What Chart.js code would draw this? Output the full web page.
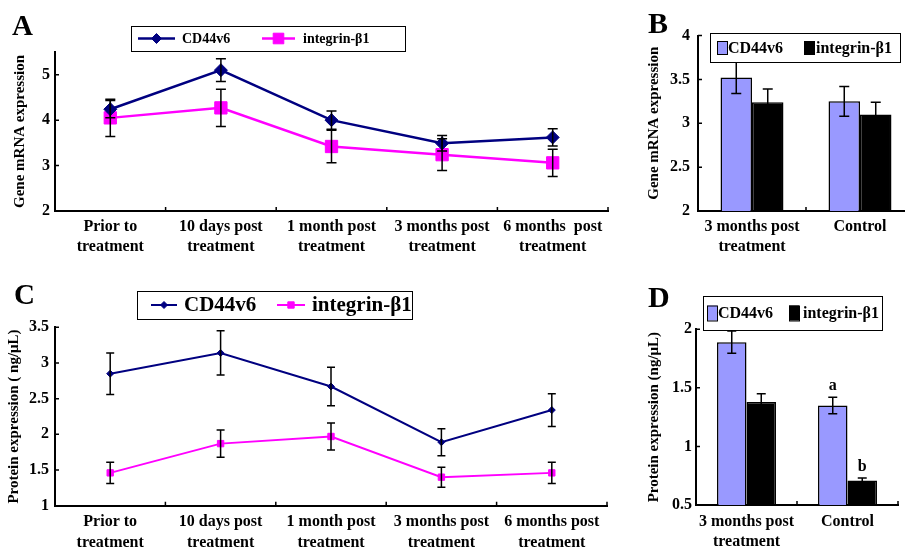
<!DOCTYPE html>
<html>
<head>
<meta charset="utf-8">
<script src="https://cdn.jsdelivr.net/npm/chart.js@4"></script>
<style>
  html, body { margin: 0; padding: 0; background: #fff; }
  body { width: 905px; height: 549px; overflow: hidden; position: relative; }
  canvas { position: absolute; }
</style>
</head>
<body>
<canvas id="chartA" width="625" height="270" style="left:0;top:0"></canvas>
<canvas id="chartB" width="280" height="270" style="left:640px;top:0"></canvas>
<canvas id="chartC" width="625" height="279" style="left:0;top:270px"></canvas>
<canvas id="chartD" width="265" height="279" style="left:640px;top:270px"></canvas>
<script>
// ---- data ----
const seriesNames = ['CD44v6', 'integrin-β1'];
const timeLabelsA = [['Prior to', 'treatment'], ['10 days post', 'treatment'], ['1 month post', 'treatment'], ['3 months post', 'treatment'], ['6 months  post', 'treatment']];
const timeLabelsC = [['Prior to', 'treatment'], ['10 days post', 'treatment'], ['1 month post', 'treatment'], ['3 months post', 'treatment'], ['6 months post', 'treatment']];
const groupLabels = [['3 months post', 'treatment'], 'Control'];

// A - gene mRNA expression over time
const mrnaCD44 = [4.24, 5.10, 4.00, 3.49, 3.62];
const mrnaCD44Err = [0.19, 0.25, 0.20, 0.17, 0.19];
const mrnaITG = [4.05, 4.27, 3.42, 3.24, 3.06];
const mrnaITGErr = [0.41, 0.41, 0.36, 0.35, 0.30];
const mrnaTicks = [2, 3, 4, 5];

// B - gene mRNA expression, 3 months vs control
const mrnaBarCD44 = [3.52, 3.25];
const mrnaBarCD44Err = [0.18, 0.17];
const mrnaBarITG = [3.24, 3.10];
const mrnaBarITGErr = [0.15, 0.14];
const mrnaBarTicks = [2, 2.5, 3, 3.5, 4];

// C - protein expression over time
const protCD44 = [2.85, 3.14, 2.67, 1.89, 2.34];
const protCD44Err = [0.29, 0.31, 0.27, 0.19, 0.23];
const protITG = [1.46, 1.87, 1.97, 1.40, 1.46];
const protITGErr = [0.15, 0.19, 0.19, 0.14, 0.15];
const protTicks = [1, 1.5, 2, 2.5, 3, 3.5];

// D - protein expression, 3 months vs control
const protBarCD44 = [1.89, 1.35];
const protBarCD44Err = [0.095, 0.07];
const protBarITG = [1.38, 0.71];
const protBarITGErr = [0.07, 0.02];
const protBarSigCD44 = ['', 'a'];
const protBarSigITG = ['', 'b'];
const protBarTicks = [0.5, 1, 1.5, 2];

const SERIF = "'Liberation Serif', 'Times New Roman', serif";
const NAVY = '#000080';
const MAGENTA = '#FF00FF';
const PURPLE = '#9999FF';

Chart.defaults.font.family = SERIF;
Chart.defaults.font.weight = 'bold';
Chart.defaults.color = '#000';

// error bars (+ optional letters above them)
const errorBarPlugin = {
  id: 'errorBars',
  afterDatasetsDraw(chart, args, opts) {
    const ctx = chart.ctx;
    const yScale = chart.scales.y;
    chart.data.datasets.forEach((ds, di) => {
      if (!ds.errors) return;
      const meta = chart.getDatasetMeta(di);
      ctx.save();
      ctx.strokeStyle = '#000';
      ctx.lineWidth = 1.5;
      meta.data.forEach((el, i) => {
        const v = ds.data[i], e = ds.errors[i];
        const top = yScale.getPixelForValue(v + e);
        const bot = yScale.getPixelForValue(v - e);
        const x = el.x, c = opts.cap;
        ctx.beginPath();
        ctx.moveTo(x, top); ctx.lineTo(x, bot);
        ctx.moveTo(x - c, top); ctx.lineTo(x + c, top);
        ctx.moveTo(x - c, bot); ctx.lineTo(x + c, bot);
        ctx.stroke();
        if (ds.marks && ds.marks[i]) {
          ctx.fillStyle = '#000';
          ctx.font = 'bold 16px ' + SERIF;
          ctx.textAlign = 'center';
          ctx.textBaseline = 'alphabetic';
          ctx.fillText(ds.marks[i], x, top - 7);
        }
      });
      ctx.restore();
    });
  }
};

// small tick marks pointing into the plot
const innerTicksPlugin = {
  id: 'innerTicks',
  afterDraw(chart, args, opts) {
    const {ctx, chartArea} = chart;
    const x = chart.scales.x, y = chart.scales.y;
    ctx.save();
    ctx.strokeStyle = '#000';
    ctx.lineWidth = 1.5;
    ctx.beginPath();
    y.ticks.forEach(t => {
      const py = y.getPixelForValue(t.value);
      ctx.moveTo(chartArea.left, py);
      ctx.lineTo(chartArea.left + opts.len, py);
    });
    for (let i = 0; i <= x.ticks.length; i++) {
      const px = x.getPixelForValue(i - 0.5);
      ctx.moveTo(px, chartArea.bottom);
      ctx.lineTo(px, chartArea.bottom - opts.len);
    }
    ctx.stroke();
    ctx.restore();
  }
};

// boxed legend + panel letter
const panelLegendPlugin = {
  id: 'panelLegend',
  afterDraw(chart, args, o) {
    const ctx = chart.ctx;
    ctx.save();
    ctx.fillStyle = '#000';
    ctx.font = 'bold ' + o.letterSize + 'px ' + SERIF;
    ctx.textAlign = 'left';
    ctx.textBaseline = 'alphabetic';
    ctx.fillText(o.letter, o.letterX, o.letterY);

    const [bx, by, bw, bh] = o.box;
    ctx.fillStyle = '#fff';
    ctx.fillRect(bx, by, bw, bh);
    ctx.strokeStyle = '#000';
    ctx.lineWidth = 1;
    ctx.strokeRect(bx + 0.5, by + 0.5, bw, bh);
    const cy = by + bh / 2;
    ctx.font = 'bold ' + o.fontSize + 'px ' + SERIF;
    ctx.textBaseline = 'middle';
    chart.data.datasets.forEach((ds, i) => {
      const it = o.items[i];
      if (o.kind === 'line') {
        ctx.strokeStyle = ds.borderColor;
        ctx.lineWidth = ds.borderWidth;
        ctx.beginPath();
        ctx.moveTo(it.x, cy);
        ctx.lineTo(it.x + it.len, cy);
        ctx.stroke();
        ctx.fillStyle = ds.backgroundColor;
        ctx.lineWidth = 1;
        Chart.helpers.drawPoint(ctx, {pointStyle: ds.pointStyle, rotation: 0, radius: it.r, borderWidth: 1}, it.x + it.len / 2, cy);
      } else {
        ctx.fillStyle = ds.backgroundColor;
        ctx.fillRect(it.x, cy - it.h / 2, it.w, it.h);
        ctx.strokeStyle = '#000';
        ctx.lineWidth = 1;
        ctx.strokeRect(it.x + 0.5, cy - it.h / 2 + 0.5, it.w, it.h);
      }
      ctx.fillStyle = '#000';
      ctx.fillText(ds.label, it.textX, cy + 1);
    });
    ctx.restore();
  }
};

function yAxis(min, max, ticks, title, width, titlePad, tickPad) {
  return {
    min: min,
    max: max,
    afterBuildTicks: s => { s.ticks = ticks.map(v => ({value: v})); },
    afterFit: s => { s.width = width; },
    grid: {display: false, drawTicks: false},
    border: {display: true, color: '#000', width: 2},
    ticks: {color: '#000', padding: tickPad, font: {size: 16, weight: 'bold'}, callback: v => String(v)},
    title: {display: true, text: title, color: '#000', padding: {top: titlePad, bottom: 0}, font: {size: 15, weight: 'bold'}}
  };
}

function xAxis(height, pad) {
  return {
    offset: true,
    afterFit: s => { s.height = height; },
    grid: {display: false, drawTicks: false, offset: true},
    border: {display: true, color: '#000', width: 2},
    ticks: {color: '#000', padding: pad, autoSkip: false, maxRotation: 0, minRotation: 0, font: {size: 16, weight: 'bold', lineHeight: 1.3}}
  };
}

const basePlugins = [errorBarPlugin, innerTicksPlugin, panelLegendPlugin];

// Panel A
new Chart(document.getElementById('chartA'), {
  type: 'line',
  data: {
    labels: timeLabelsA,
    datasets: [
      {label: seriesNames[0], data: mrnaCD44, errors: mrnaCD44Err, borderColor: NAVY, backgroundColor: NAVY,
        borderWidth: 2.5, pointStyle: 'rectRot', pointRadius: 6.5, pointBorderWidth: 1, tension: 0},
      {label: seriesNames[1], data: mrnaITG, errors: mrnaITGErr, borderColor: MAGENTA, backgroundColor: MAGENTA,
        borderWidth: 2.5, pointStyle: 'rect', pointRadius: 8.7, pointBorderWidth: 1, tension: 0}
    ]
  },
  options: {
    responsive: false,
    animation: false,
    layout: {padding: {top: 52, right: 17, left: 0, bottom: 0}},
    scales: {
      x: xAxis(59, 5),
      y: yAxis(2, 5.5, mrnaTicks, 'Gene mRNA expression', 55, 11, 5)
    },
    plugins: {
      legend: {display: false},
      tooltip: {enabled: false},
      errorBars: {cap: 5},
      innerTicks: {len: 4},
      panelLegend: {letter: 'A', letterX: 12, letterY: 35, letterSize: 29, box: [131, 26, 274, 25], fontSize: 14, kind: 'line',
        items: [{x: 138, len: 37, textX: 182, r: 5}, {x: 262, len: 33, textX: 303, r: 7.5}]}
    }
  },
  plugins: basePlugins
});

// Panel B
new Chart(document.getElementById('chartB'), {
  type: 'bar',
  data: {
    labels: groupLabels,
    datasets: [
      {label: seriesNames[0], data: mrnaBarCD44, errors: mrnaBarCD44Err, backgroundColor: PURPLE, borderColor: '#000',
        borderWidth: 1.5, categoryPercentage: 0.583, barPercentage: 1},
      {label: seriesNames[1], data: mrnaBarITG, errors: mrnaBarITGErr, backgroundColor: '#000', borderColor: '#000',
        borderWidth: 1.5, categoryPercentage: 0.583, barPercentage: 1}
    ]
  },
  options: {
    responsive: false,
    animation: false,
    layout: {padding: {top: 35.5, right: 6, left: 0, bottom: 0}},
    scales: {
      x: xAxis(59, 5),
      y: yAxis(2, 4, mrnaBarTicks, 'Gene mRNA expression', 58, 5, 8)
    },
    plugins: {
      legend: {display: false},
      tooltip: {enabled: false},
      errorBars: {cap: 5},
      innerTicks: {len: 4},
      panelLegend: {letter: 'B', letterX: 8, letterY: 33, letterSize: 30, box: [70, 33, 190, 29], fontSize: 16, kind: 'bar',
        items: [{x: 77, w: 10, h: 13, textX: 88}, {x: 164, w: 10, h: 13, textX: 176}]}
    }
  },
  plugins: basePlugins
});

// Panel C
new Chart(document.getElementById('chartC'), {
  type: 'line',
  data: {
    labels: timeLabelsC,
    datasets: [
      {label: seriesNames[0], data: protCD44, errors: protCD44Err, borderColor: NAVY, backgroundColor: NAVY,
        borderWidth: 2, pointStyle: 'rectRot', pointRadius: 3.5, pointBorderWidth: 1, tension: 0},
      {label: seriesNames[1], data: protITG, errors: protITGErr, borderColor: MAGENTA, backgroundColor: MAGENTA,
        borderWidth: 2, pointStyle: 'rect', pointRadius: 4.5, pointBorderWidth: 1, tension: 0}
    ]
  },
  options: {
    responsive: false,
    animation: false,
    layout: {padding: {top: 57.3, right: 18, left: 0, bottom: 0}},
    scales: {
      x: xAxis(43.3, 6),
      y: yAxis(1, 3.5, protTicks, 'Protein expression ( ng/μL)', 55, 5, 6)
    },
    plugins: {
      legend: {display: false},
      tooltip: {enabled: false},
      errorBars: {cap: 4},
      innerTicks: {len: 4},
      panelLegend: {letter: 'C', letterX: 14, letterY: 34, letterSize: 29, box: [137, 21, 275, 28], fontSize: 21, kind: 'line',
        items: [{x: 151, len: 26, textX: 184, r: 3.5}, {x: 277, len: 28, textX: 312, r: 4.5}]}
    }
  },
  plugins: basePlugins
});

// Panel D
new Chart(document.getElementById('chartD'), {
  type: 'bar',
  data: {
    labels: groupLabels,
    datasets: [
      {label: seriesNames[0], data: protBarCD44, errors: protBarCD44Err, marks: protBarSigCD44, backgroundColor: PURPLE,
        borderColor: '#000', borderWidth: 1.5, categoryPercentage: 0.584, barPercentage: 1},
      {label: seriesNames[1], data: protBarITG, errors: protBarITGErr, marks: protBarSigITG, backgroundColor: '#000',
        borderColor: '#000', borderWidth: 1.5, categoryPercentage: 0.584, barPercentage: 1}
    ]
  },
  options: {
    responsive: false,
    animation: false,
    layout: {padding: {top: 59.3, right: 7, left: 0, bottom: 0}},
    scales: {
      x: xAxis(44, 6),
      y: yAxis(0.5, 2, protBarTicks, 'Protein expression (ng/μL)', 56, 5, 4)
    },
    plugins: {
      legend: {display: false},
      tooltip: {enabled: false},
      errorBars: {cap: 4.5},
      innerTicks: {len: 4},
      panelLegend: {letter: 'D', letterX: 8, letterY: 37, letterSize: 30, box: [63, 26, 179, 34], fontSize: 16, kind: 'bar',
        items: [{x: 67, w: 10, h: 15, textX: 78}, {x: 149, w: 10, h: 15, textX: 163}]}
    }
  },
  plugins: basePlugins
});
</script>
</body>
</html>
